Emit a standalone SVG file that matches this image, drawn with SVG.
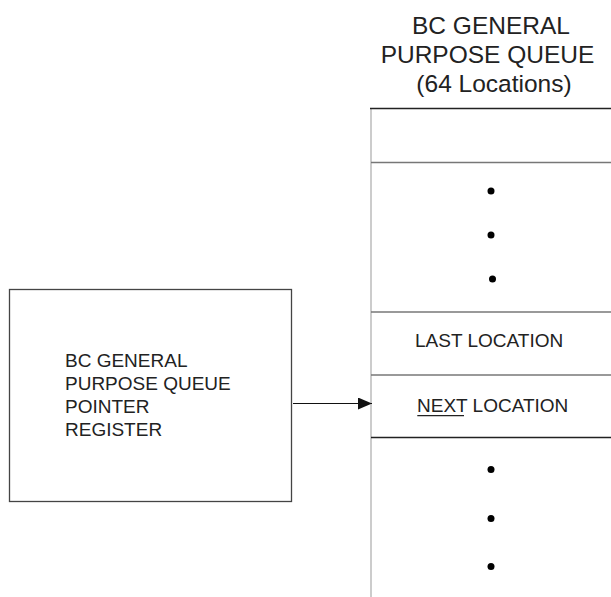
<svg xmlns="http://www.w3.org/2000/svg" width="611" height="597" viewBox="0 0 611 597">
<style>
text{font-family:"Liberation Sans",Arial,sans-serif;fill:#222}
.t{font-size:24.5px}
.l{font-size:19px}
.dot{fill:#000}
</style>
<defs>
<marker id="ah" markerWidth="14" markerHeight="12" refX="14" refY="6" orient="auto" markerUnits="userSpaceOnUse">
<path d="M0,0 L14,6 L0,12 Z" fill="#111"/>
</marker>
</defs>
<rect width="611" height="597" fill="#fff"/>
<g id="title">
<text class="t" x="491" y="34" text-anchor="middle">BC GENERAL</text>
<text class="t" x="487.5" y="63" text-anchor="middle">PURPOSE QUEUE</text>
<text class="t" x="494" y="92" text-anchor="middle">(64 Locations)</text>
</g>
<g id="queue">
<line x1="371" y1="108" x2="371" y2="597" stroke="#bbb" stroke-width="1.5"/>
<line x1="370" y1="108.5" x2="611" y2="108.5" stroke="#222" stroke-width="1.3"/>
<line x1="371" y1="162.5" x2="611" y2="162.5" stroke="#777" stroke-width="1.3"/>
<line x1="371" y1="312" x2="611" y2="312" stroke="#777" stroke-width="1.3"/>
<line x1="371" y1="375" x2="611" y2="375" stroke="#777" stroke-width="1.3"/>
<line x1="371" y1="437.5" x2="611" y2="437.5" stroke="#222" stroke-width="1.3"/>
<circle class="dot" cx="491" cy="191" r="3.5"/>
<circle class="dot" cx="491" cy="235" r="3.5"/>
<circle class="dot" cx="492.5" cy="279" r="3.5"/>
<text class="l" x="415" y="346.5">LAST LOCATION</text>
<text class="l" x="417" y="411.5">NEXT LOCATION</text>
<line x1="417.3" y1="415.7" x2="464" y2="415.7" stroke="#222" stroke-width="1.2"/>
<circle class="dot" cx="491" cy="469.5" r="3.5"/>
<circle class="dot" cx="491" cy="518.5" r="3.5"/>
<circle class="dot" cx="491" cy="566.5" r="3.5"/>
</g>
<g id="pointer-register">
<rect x="9.5" y="289.5" width="282" height="212" fill="none" stroke="#444" stroke-width="1.3"/>
<text class="l" x="65" y="367">BC GENERAL</text>
<text class="l" x="65" y="390">PURPOSE QUEUE</text>
<text class="l" x="65" y="413">POINTER</text>
<text class="l" x="65" y="436">REGISTER</text>
</g>
<g id="connectors">
<line x1="293" y1="403.5" x2="372" y2="403.5" stroke="#111" stroke-width="1.2" marker-end="url(#ah)"/>
</g>
</svg>
